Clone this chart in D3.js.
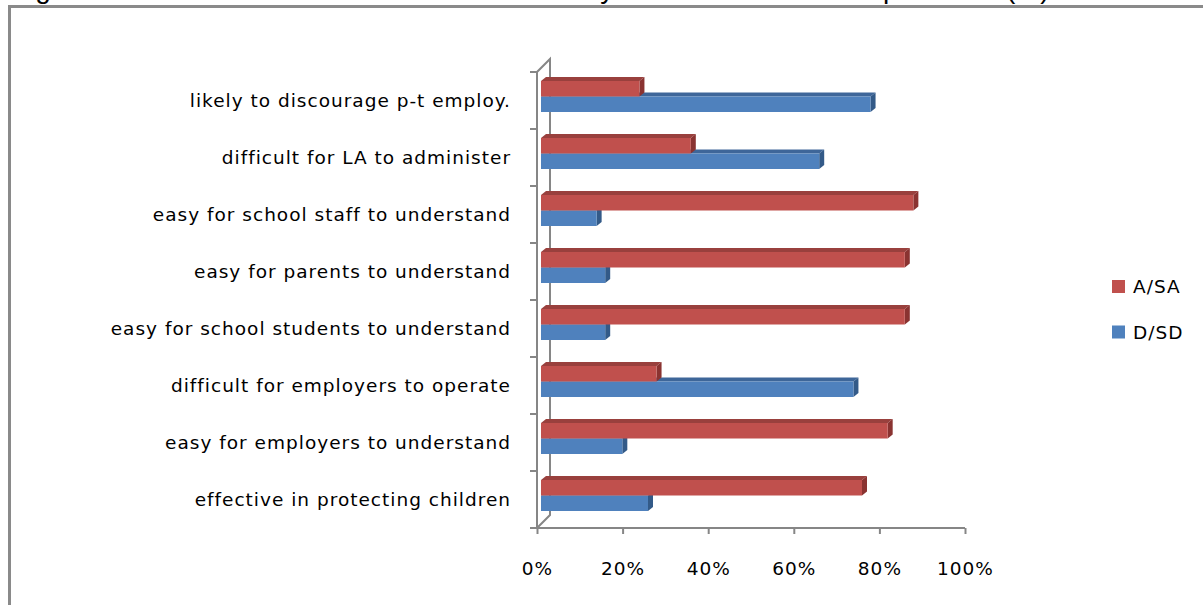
<!DOCTYPE html>
<html>
<head>
<meta charset="utf-8">
<script src="https://cdn.jsdelivr.net/npm/d3@7"></script>
<style>
  html, body { margin: 0; padding: 0; background: #fff; }
  svg { display: block; }
</style>
</head>
<body>
<svg id="chart" width="1203" height="605"></svg>
<script>
// Survey statements, listed top to bottom
const categories = [
  "likely to discourage p-t employ.",
  "difficult for LA to administer",
  "easy for school staff to understand",
  "easy for parents to understand",
  "easy for school students to understand",
  "difficult for employers to operate",
  "easy for employers to understand",
  "effective in protecting children"
];
const seriesNames = ["A/SA", "D/SD"];
// Percentage agreeing / strongly agreeing
const agreeValues = [23, 35, 87, 85, 85, 27, 81, 75];
// Percentage disagreeing / strongly disagreeing
const disagreeValues = [77, 65, 13, 15, 15, 73, 19, 25];
const xTickValues = [0, 20, 40, 60, 80, 100];
const titleText = "Figure 5: Attitudes to the licence scheme held by all staff and other respondents (%)";

const svg = d3.select("#chart");
const axisColor = "#868686";
const labelFont = "'DejaVu Sans', sans-serif";

const colors = {
  "A/SA": { front: "#C0504D", top: "#99403D", side: "#8A3331" },
  "D/SD": { front: "#4F81BD", top: "#3E6699", side: "#335A88" }
};

// Outer frame (top and left edges)
svg.append("path")
  .attr("d", "M9.5,605 L9.5,6.5 L1203,6.5")
  .attr("fill", "none")
  .attr("stroke", "#8a8a8a")
  .attr("stroke-width", 3);

// Title line, sitting just above the frame
svg.append("text")
  .attr("x", 12).attr("y", -2)
  .attr("font-family", "'Liberation Sans', Arial, sans-serif")
  .attr("font-size", 28)
  .attr("fill", "#000")
  .text(titleText);

// Scales on the front plane
const x = d3.scaleLinear().domain([0, 100]).range([537, 965]);
const y = d3.scaleBand().domain(categories).range([72, 528]);
const inner = d3.scaleBand().domain(seriesNames).range([-15.5, 15.5]);

// Oblique depth of the wall and of each bar
const wall = { dx: 13, dy: -13 };
const barOffset = { dx: 4, dy: -4 };
const barDepth = { dx: 5, dy: -4 };

const g = svg.append("g");

// Back wall edge and the floor/top diagonals
const y0 = y.range()[0], y1 = y.range()[1], x0 = x(0);
g.append("path")
  .attr("d", `M${x0},${y1} L${x0 + wall.dx},${y1 + wall.dy} L${x0 + wall.dx},${y0 + wall.dy} L${x0},${y0}`)
  .attr("fill", "none")
  .attr("stroke", axisColor)
  .attr("stroke-width", 2);

// Bars: blue drawn first so the red bar sits over its top face
const rows = categories.map((c, i) => ({ cat: c, values: { "A/SA": agreeValues[i], "D/SD": disagreeValues[i] } }));
const drawOrder = ["D/SD", "A/SA"];

rows.forEach(row => {
  drawOrder.forEach(s => {
    const v = row.values[s];
    const cy = y(row.cat) + y.bandwidth() / 2 + barOffset.dy;
    const top = cy + inner(s);
    const h = inner.bandwidth();
    const left = x(0) + barOffset.dx;
    const right = x(v) + barOffset.dx;
    const c = colors[s];
    const bar = g.append("g");
    // top face
    bar.append("path")
      .attr("d", `M${left},${top} L${left + barDepth.dx},${top + barDepth.dy} L${right + barDepth.dx},${top + barDepth.dy} L${right},${top} Z`)
      .attr("fill", c.top);
    // side face
    bar.append("path")
      .attr("d", `M${right},${top} L${right + barDepth.dx},${top + barDepth.dy} L${right + barDepth.dx},${top + h + barDepth.dy} L${right},${top + h} Z`)
      .attr("fill", c.side);
    // front face
    bar.append("rect")
      .attr("x", left).attr("y", top)
      .attr("width", right - left).attr("height", h)
      .attr("fill", c.front);
  });
});

// Category axis: front line with ticks between groups
g.append("line")
  .attr("x1", x0).attr("x2", x0)
  .attr("y1", y0).attr("y2", y1)
  .attr("stroke", axisColor).attr("stroke-width", 2);
const boundaries = categories.map(c => y(c)).concat([y1]);
g.selectAll(".cat-tick").data(boundaries).join("line")
  .attr("class", "cat-tick")
  .attr("x1", x0 - 7).attr("x2", x0)
  .attr("y1", d => d).attr("y2", d => d)
  .attr("stroke", axisColor).attr("stroke-width", 2);

g.selectAll(".cat-label").data(categories).join("text")
  .attr("class", "cat-label")
  .attr("x", 511)
  .attr("y", d => y(d) + y.bandwidth() / 2)
  .attr("dy", "0.35em")
  .attr("text-anchor", "end")
  .attr("font-family", labelFont)
  .attr("font-size", 18.5)
  .attr("letter-spacing", 1.0)
  .attr("fill", "#000")
  .text(d => d);

// Value axis along the floor
const xAxis = d3.axisBottom(x)
  .tickValues(xTickValues)
  .tickFormat(d => d + "%")
  .tickSize(6)
  .tickSizeOuter(0);
const ax = g.append("g")
  .attr("transform", `translate(0,${y1})`)
  .call(xAxis);
ax.select(".domain")
  .attr("d", `M${x0 - 7},0 H${x(100)}`)
  .attr("stroke", axisColor).attr("stroke-width", 2);
ax.selectAll(".tick line").attr("stroke", axisColor).attr("stroke-width", 2);
ax.selectAll(".tick text")
  .attr("y", 34)
  .attr("font-family", labelFont)
  .attr("font-size", 18.5)
  .attr("letter-spacing", 1.0)
  .attr("fill", "#000");

// Legend
const legend = svg.append("g");
seriesNames.forEach((s, i) => {
  const ly = 280 + i * 45.5;
  legend.append("rect")
    .attr("x", 1112).attr("y", ly)
    .attr("width", 13).attr("height", 13)
    .attr("fill", colors[s].front);
  legend.append("text")
    .attr("x", 1133).attr("y", ly + 13)
    .attr("font-family", labelFont)
    .attr("font-size", 18.5)
    .attr("letter-spacing", 1.0)
    .attr("fill", "#000")
    .text(s);
});
</script>
</body>
</html>
